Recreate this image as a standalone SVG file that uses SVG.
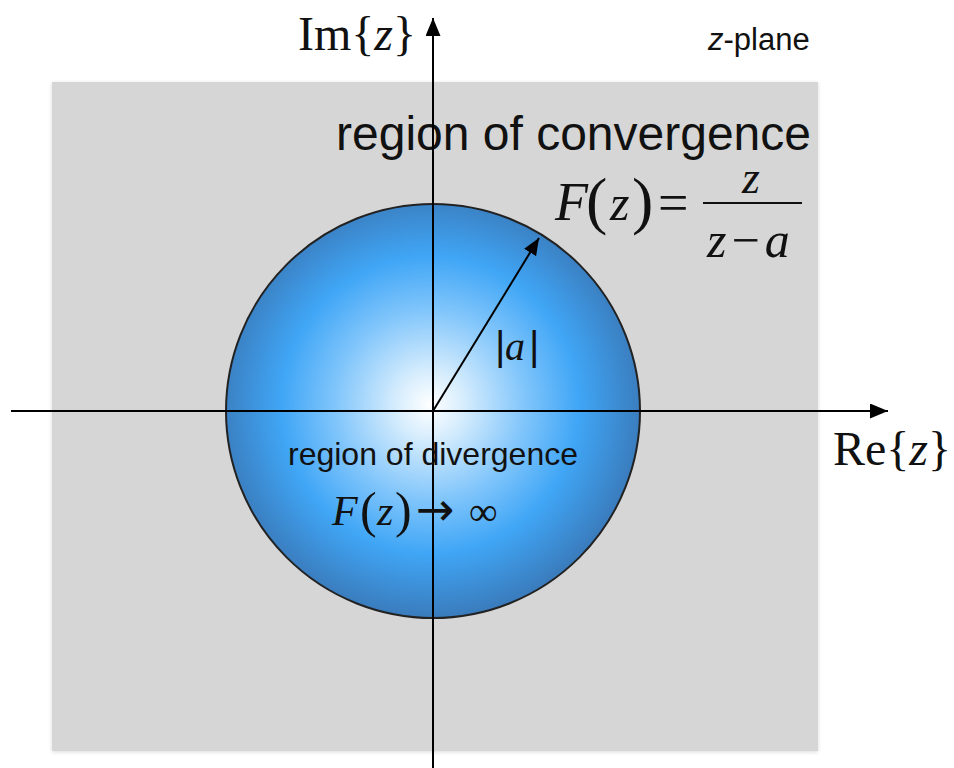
<svg xmlns="http://www.w3.org/2000/svg" width="954" height="768" viewBox="0 0 954 768">
  <style>
    .sans { font-family: "Liberation Sans", Arial, Helvetica, sans-serif; fill: #111; }
    .serif { font-family: "Liberation Serif", "Times New Roman", serif; fill: #111; }
    .it { font-style: italic; }
    .axis { stroke: #000; stroke-width: 2; fill: none; }
  </style>
  <defs>
    <radialGradient id="ballGrad" cx="430" cy="405" r="212" gradientUnits="userSpaceOnUse">
      <stop offset="0" stop-color="#ffffff"/>
      <stop offset="0.15" stop-color="#d9eefd"/>
      <stop offset="0.45" stop-color="#80c5fb"/>
      <stop offset="0.7" stop-color="#40a6f6"/>
      <stop offset="1" stop-color="#3a7cbd"/>
    </radialGradient>
    <filter id="shadow" x="-5%" y="-5%" width="110%" height="110%">
      <feGaussianBlur in="SourceAlpha" stdDeviation="2"/>
      <feOffset dx="0" dy="1" result="b"/>
      <feComponentTransfer><feFuncA type="linear" slope="0.15"/></feComponentTransfer>
      <feMerge><feMergeNode/><feMergeNode in="SourceGraphic"/></feMerge>
    </filter>
    <marker id="arrowBig" markerUnits="userSpaceOnUse" markerWidth="20" markerHeight="16" refX="18" refY="7.5" orient="auto">
      <path d="M0,0 L18,7.5 L0,15 Z" fill="#000"/>
    </marker>
    <marker id="arrowSmall" markerUnits="userSpaceOnUse" markerWidth="20" markerHeight="16" refX="17" refY="7" orient="auto">
      <path d="M0,0 L17,7 L0,14 Z" fill="#000"/>
    </marker>
  </defs>

  <rect width="954" height="768" fill="#ffffff"/>

  <g id="plane">
    <rect x="52" y="82" width="766" height="669" fill="#d6d6d6" filter="url(#shadow)"/>
    <text class="sans" x="708" y="50" font-size="31"><tspan class="it">z</tspan>-plane</text>
  </g>

  <g id="convergence-label">
    <text class="sans" x="336" y="150" font-size="48">region of convergence</text>
  </g>

  <g id="divergence-disc">
    <circle cx="433" cy="411" r="207" fill="url(#ballGrad)" stroke="#222" stroke-width="2"/>
  </g>

  <g id="connectors">
    <line class="axis" x1="11" y1="411" x2="888" y2="411" marker-end="url(#arrowBig)"/>
    <line class="axis" x1="433" y1="768" x2="433" y2="18" marker-end="url(#arrowBig)"/>
    <line class="axis" x1="433" y1="411" x2="539" y2="238" stroke-width="1.8" marker-end="url(#arrowSmall)"/>
  </g>

  <g id="im-label">
    <text class="serif" x="298" y="50" font-size="48">Im{<tspan class="it">z</tspan>}</text>
  </g>

  <g id="re-label">
    <text class="serif" x="833" y="465" font-size="48">Re{<tspan class="it">z</tspan>}</text>
  </g>

  <g id="radius-label">
    <text class="sans" x="495" y="360" font-size="40">|</text>
    <text class="serif it" x="505" y="360" font-size="40">a</text>
    <text class="sans" x="529" y="360" font-size="40">|</text>
  </g>

  <g id="transfer-function">
    <text class="serif it" x="555" y="220" font-size="54">F</text>
    <text class="serif" x="586" y="222" font-size="64">(</text>
    <text class="serif it" x="610" y="220" font-size="50">z</text>
    <text class="serif" x="632" y="222" font-size="64">)</text>
    <text class="serif" x="658" y="221" font-size="54">=</text>
    <line x1="703" y1="203" x2="802" y2="203" stroke="#111" stroke-width="2"/>
    <text class="serif it" x="742" y="193" font-size="46">z</text>
    <text class="serif" x="707" y="257" font-size="50"><tspan class="it">z</tspan><tspan dx="5">−</tspan><tspan class="it" dx="5">a</tspan></text>
  </g>

  <g id="divergence-label">
    <text class="sans" x="288" y="465" font-size="32">region of divergence</text>
    <text class="serif it" x="332" y="525" font-size="42">F</text>
    <text class="serif" x="360" y="527" font-size="50">(</text>
    <text class="serif it" x="377" y="525" font-size="42">z</text>
    <text class="serif" x="395" y="527" font-size="50">)</text>
    <text x="416" y="525" font-size="46" font-family="'DejaVu Sans', sans-serif" fill="#111">→</text>
    <text class="serif" x="469" y="525" font-size="40">∞</text>
  </g>
</svg>
